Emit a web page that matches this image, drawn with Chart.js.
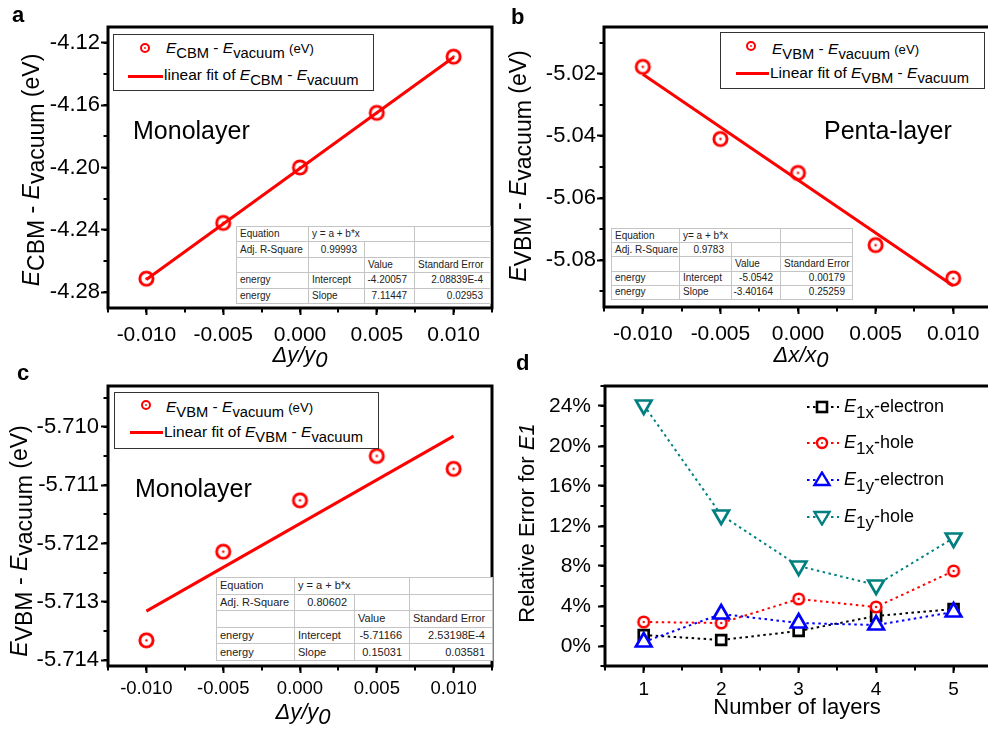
<!DOCTYPE html>
<html>
<head>
<meta charset="utf-8">
<script src="https://cdn.jsdelivr.net/npm/chart.js@4.4.1/dist/chart.umd.min.js"></script>
<style>
html, body { margin: 0; padding: 0; background: #fff; overflow: hidden; width: 988px; height: 729px; }
body { position: relative; font-family: "Liberation Sans", Arial, sans-serif; color: #000; }
canvas { position: absolute; }
.t { position: absolute; white-space: nowrap; line-height: 1; }
.sb { position: relative; top: 0.35em; font-size: 0.95em; }
.ysb { position: relative; top: 0.2em; }
.leg { position: absolute; border: 1.5px solid #333; box-sizing: border-box; background: #fff; }
.mk { position: absolute; }
table.st { position: absolute; border-collapse: collapse; table-layout: fixed; background: #fff; border: 1.5px solid #333; color: #222; }
table.st td { border: 1px solid #c4c4c4; padding: 0 0 0 3px; white-space: nowrap; overflow: hidden; line-height: 1; }
table.st td.r { text-align: right; padding: 0 7px 0 0; }
</style>
</head>
<body>
<canvas id="cA" width="500" height="364" style="left:0;top:0"></canvas>
<canvas id="cB" width="510" height="364" style="left:494px;top:0"></canvas>
<canvas id="cC" width="500" height="365" style="left:0;top:364px"></canvas>
<canvas id="cD" width="510" height="365" style="left:494px;top:364px"></canvas>
<script>
const FONT = '"Liberation Sans", Arial, sans-serif';

// strain axis shared by a, b, c
const strainX = [-0.010, -0.005, 0.000, 0.005, 0.010];
const ticksStrain = [-0.010, -0.005, 0.000, 0.005, 0.010];
const fitX = [-0.010, 0.010];

// a: monolayer, CBM
const cbmMono = [-4.2712, -4.2355, -4.2000, -4.1650, -4.1290];
const fitCbmMono = [-4.2717, -4.1294];
const ticksA = [-4.28, -4.24, -4.20, -4.16, -4.12];
const statsA = ['y = a + b*x', '0.99993', '-4.20057', '2.08839E-4', '7.11447', '0.02953'];

// b: penta-layer, VBM
const vbmPenta = [-5.0178, -5.0410, -5.0519, -5.0751, -5.0858];
const fitVbmPenta = [-5.0202, -5.0882];
const ticksB = [-5.08, -5.06, -5.04, -5.02];
const statsB = ['y= a + b*x', '0.9783', '-5.0542', '0.00179', '-3.40164', '0.25259'];

// c: monolayer, VBM
const vbmMono = [-5.71366, -5.71214, -5.71126, -5.71050, -5.71072];
const fitVbmMono = [-5.71316, -5.71016];
const ticksC = [-5.714, -5.713, -5.712, -5.711, -5.710];
const statsC = ['y = a + b*x', '0.80602', '-5.71166', '2.53198E-4', '0.15031', '0.03581'];

// d: relative error (%) vs number of layers
const layers = [1, 2, 3, 4, 5];
const e1xElectron = [1.1, 0.6, 1.5, 3.0, 3.7];
const e1xHole = [2.4, 2.3, 4.7, 3.9, 7.5];
const e1yElectron = [0.4, 3.2, 2.3, 2.1, 3.4];
const e1yHole = [24.1, 13.1, 8.0, 6.1, 10.8];
const ticksD = [0, 4, 8, 12, 16, 20, 24];
const ticksLayers = [1, 2, 3, 4, 5];

const RED = '#ff0000', BLUE = '#0000ff', TEAL = '#008080';

function pts(xs, ys) { return xs.map((x, i) => ({ x: x, y: ys[i] })); }

function ring(r, lw, color, fill) {
  const c = document.createElement('canvas');
  const s = Math.ceil(2 * r + lw + 2);
  c.width = c.height = s;
  const g = c.getContext('2d');
  g.beginPath(); g.arc(s / 2, s / 2, r, 0, Math.PI * 2);
  if (fill) { g.fillStyle = fill; g.fill(); }
  g.strokeStyle = color; g.lineWidth = lw; g.stroke();
  g.fillStyle = color; g.beginPath(); g.arc(s / 2, s / 2, 1.2, 0, Math.PI * 2); g.fill();
  return c;
}

// frame box + short minor ticks
function frame(xStep, yStep) {
  return {
    id: 'frame',
    afterDraw(chart) {
      const { ctx, chartArea: a } = chart;
      const x = chart.scales.x, y = chart.scales.y;
      ctx.save();
      ctx.strokeStyle = '#000';
      ctx.lineWidth = 2;
      ctx.beginPath();
      for (let k = Math.ceil(x.min / xStep - 1e-6); k <= Math.floor(x.max / xStep + 1e-6); k++) {
        const px = Math.round(x.getPixelForValue(k * xStep));
        ctx.moveTo(px, a.bottom); ctx.lineTo(px, a.bottom + 4.5);
      }
      for (let k = Math.ceil(y.min / yStep - 1e-6); k <= Math.floor(y.max / yStep + 1e-6); k++) {
        const py = Math.round(y.getPixelForValue(k * yStep));
        ctx.moveTo(a.left, py); ctx.lineTo(a.left - 4.5, py);
      }
      ctx.stroke();
      ctx.lineWidth = 3;
      ctx.strokeRect(a.left, a.top, a.right - a.left, a.bottom - a.top);
      ctx.restore();
    }
  };
}

function axis(min, max, tickVals, fmt, size, pad, fitSize, isX) {
  return {
    type: 'linear', min: min, max: max,
    afterBuildTicks: s => { s.ticks = tickVals.map(v => ({ value: v })); },
    afterFit: s => { if (isX) s.height = fitSize; else s.width = fitSize; },
    grid: { drawOnChartArea: false, drawTicks: true, tickLength: 7, tickWidth: 2, tickColor: '#000' },
    border: { display: false },
    ticks: { color: '#000', font: { family: FONT, size: size }, padding: pad, callback: fmt, maxRotation: 0, autoSkip: false }
  };
}

function makeChart(id, pad, xAxis, yAxis, datasets, minor) {
  return new Chart(document.getElementById(id), {
    type: 'scatter',
    data: { datasets: datasets },
    options: {
      responsive: false, animation: false, events: [],
      layout: { padding: pad },
      plugins: { legend: { display: false }, tooltip: { enabled: false } },
      scales: { x: xAxis, y: yAxis }
    },
    plugins: [frame(minor[0], minor[1])]
  });
}

const f2 = v => v.toFixed(2), f3 = v => v.toFixed(3);
const redRing = ring(6.6, 2.9, RED);

function fitSet(ys) {
  return { data: pts(fitX, ys), showLine: true, borderColor: RED, borderWidth: 3, pointRadius: 0 };
}
function ringSet(ys) {
  return { data: pts(strainX, ys), pointStyle: redRing, pointRadius: 7, showLine: false };
}

makeChart('cA', { left: 0, top: 27, right: 6, bottom: 0 },
  axis(-0.0125, 0.0125, ticksStrain, f3, 21, 8, 56, true),
  axis(-4.29, -4.11, ticksA, f2, 22, 1, 108, false),
  [ringSet(cbmMono), fitSet(fitCbmMono)], [0.0025, 0.02]);

makeChart('cB', { left: 0, top: 27, right: 12, bottom: 0 },
  axis(-0.0125, 0.0125, ticksStrain, f3, 21, 8, 57, true),
  axis(-5.095, -5.005, ticksB, f2, 22, 1, 110, false),
  [ringSet(vbmPenta), fitSet(fitVbmPenta)], [0.0025, 0.01]);

makeChart('cC', { left: 0, top: 22, right: 4, bottom: 0 },
  axis(-0.0125, 0.0125, ticksStrain, f3, 18.5, 5, 63, true),
  axis(-5.7141, -5.7093, ticksC, f3, 22, 2, 108, false),
  [ringSet(vbmMono), fitSet(fitVbmMono)], [0.0025, 0.0005]);

function errSet(ys, color, style, radius, rot, order) {
  return {
    data: pts(layers, ys), showLine: true, borderColor: color, borderWidth: 2, borderDash: [2.5, 3.5],
    pointStyle: style, pointRadius: radius, pointRotation: rot, pointBorderColor: color,
    pointBackgroundColor: '#fff', pointBorderWidth: 2.7, order: order
  };
}

makeChart('cD', { left: 0, top: 22, right: 11, bottom: 0 },
  axis(0.5, 5.5, ticksLayers, v => String(v), 19, 5, 63, true),
  axis(-2, 26, ticksD, v => v + '%', 21, 7, 111, false),
  [
    errSet(e1xElectron, '#000', 'rect', 7, 0, 4),
    errSet(e1xHole, RED, ring(5.3, 2.6, RED, '#fff'), 6, 0, 3),
    errSet(e1yElectron, BLUE, 'triangle', 9, 0, 2),
    errSet(e1yHole, TEAL, 'triangle', 9, 180, 1)
  ], [0.5, 2]);

// ---- text overlays ----
function put(html, x, base, size, style) {
  const d = document.createElement('div');
  d.className = 't';
  d.style.left = x + 'px';
  d.style.top = (base - 0.8465 * size) + 'px';
  d.style.fontSize = size + 'px';
  if (style) d.style.cssText += style;
  d.innerHTML = html;
  document.body.appendChild(d);
  return d;
}
function rot(html, cx, cy, size) {
  const d = document.createElement('div');
  d.className = 't';
  d.style.cssText += 'left:' + cx + 'px;top:' + cy + 'px;font-size:' + size + 'px;transform:translate(-50%,-50%) rotate(-90deg);';
  d.innerHTML = html;
  document.body.appendChild(d);
}
function raw(html) { document.body.insertAdjacentHTML('beforeend', html); }

const E = '<i>E</i>';
const sub = s => '<span class="sb">' + s + '</span>';
const ysub = s => '<span class="ysb">' + s + '</span>';

// panel letters
put('<b>a</b>', 12, 23, 22);
put('<b>b</b>', 511, 25, 22);
put('<b>c</b>', 17, 381, 22);
put('<b>d</b>', 516, 371, 22);

// axis titles
rot(E + ysub('CBM') + ' - ' + E + ysub('vacuum') + ' (eV)', 31, 170, 23);
rot(E + ysub('VBM') + ' - ' + E + ysub('vacuum') + ' (eV)', 518, 166, 23);
rot(E + ysub('VBM') + ' - ' + E + ysub('vacuum') + ' (eV)', 19, 541, 23);
rot('Relative Error for <i>E1</i>', 527, 523, 22);
put('<i>Δy/y<span class="ysb">0</span></i>', 300, 363, 22, 'transform:translateX(-50%)');
put('<i>Δx/x<span class="ysb">0</span></i>', 801, 363, 22, 'transform:translateX(-50%)');
put('<i>Δy/y<span class="ysb">0</span></i>', 303, 720, 22, 'transform:translateX(-50%)');
put('Number of layers', 797, 715, 22, 'transform:translateX(-50%)');

// in-plot labels
put('Monolayer', 133, 139, 25);
put('Penta-layer', 824, 139, 25);
put('Monolayer', 135, 497, 25);

// legends a, b, c
function legRing(cx, cy) {
  return '<svg class="mk" style="left:' + (cx - 7) + 'px;top:' + (cy - 7) + 'px" width="14" height="14">' +
    '<circle cx="7" cy="7" r="4" fill="none" stroke="#f00" stroke-width="2"/><circle cx="7" cy="7" r="0.9" fill="#f00"/></svg>';
}
function legLine(x1, x2, y) {
  return '<div style="position:absolute;left:' + x1 + 'px;top:' + (y - 1.5) + 'px;width:' + (x2 - x1) + 'px;height:3px;background:#f00"></div>';
}
function legend(box, mk, ln, textX, b1, b2, band, fitWord) {
  raw('<div class="leg" style="left:' + box[0] + 'px;top:' + box[1] + 'px;width:' + box[2] + 'px;height:' + box[3] + 'px"></div>');
  raw(legRing(mk[0], mk[1]));
  raw(legLine(ln[0], ln[1], ln[2]));
  put(E + sub(band) + ' - ' + E + sub('vacuum') + ' <span style="font-size:0.85em">(eV)</span>', textX, b1, 15.5);
  put(fitWord + ' fit of ' + E + sub(band) + ' - ' + E + sub('vacuum'), ln[1] + 1, b2, 15.5);
}
legend([113, 34, 261, 57], [145, 48], [128, 163, 76], 166, 53, 80, 'CBM', 'linear');
legend([720, 32, 265, 57], [751, 46], [736, 769, 73], 772, 54, 78, 'VBM', 'Linear');
legend([114, 392, 265, 57], [146, 405], [130, 163, 432], 166, 412, 437, 'VBM', 'Linear');

// legend d
function legD(cy, color, shape) {
  let m = '';
  if (shape === 'sq') m = '<rect x="12" y="4" width="10" height="10" fill="#fff" stroke="' + color + '" stroke-width="2.6"/>';
  if (shape === 'ci') m = '<circle cx="17" cy="9" r="5" fill="#fff" stroke="' + color + '" stroke-width="2.4"/><circle cx="17" cy="9" r="1" fill="' + color + '"/>';
  if (shape === 'up') m = '<polygon points="17,1.5 24.5,14 9.5,14" fill="#fff" stroke="' + color + '" stroke-width="2.4"/>';
  if (shape === 'dn') m = '<polygon points="17,16.5 24.5,4 9.5,4" fill="#fff" stroke="' + color + '" stroke-width="2.4"/>';
  raw('<svg class="mk" style="left:805px;top:' + (cy - 9) + 'px" width="36" height="18">' +
    '<line x1="2" y1="9" x2="34" y2="9" stroke="' + color + '" stroke-width="2" stroke-dasharray="2.5 3.5"/>' + m + '</svg>');
}
legD(407, '#000', 'sq');
legD(443, RED, 'ci');
legD(480, BLUE, 'up');
legD(517, TEAL, 'dn');
put(E + sub('1x') + '-electron', 844, 412, 18);
put(E + sub('1x') + '-hole', 844, 448, 18);
put(E + sub('1y') + '-electron', 844, 485, 18);
put(E + sub('1y') + '-hole', 844, 522, 18);

// fit statistics tables
function statTable(left, top, cols, rowH, fs, s) {
  const cg = '<colgroup>' + cols.map(w => '<col style="width:' + w + 'px">').join('') + '</colgroup>';
  const tr = cells => '<tr style="height:' + rowH + 'px">' + cells + '</tr>';
  const w = cols.reduce((p, c) => p + c, 0);
  raw('<table class="st" style="left:' + left + 'px;top:' + top + 'px;width:' + w + 'px;font-size:' + fs + 'px">' + cg +
    tr('<td>Equation</td><td colspan="2">' + s[0] + '</td><td></td>') +
    tr('<td>Adj. R-Square</td><td class="r">' + s[1] + '</td><td></td><td></td>') +
    tr('<td></td><td></td><td>Value</td><td>Standard Error</td>') +
    tr('<td>energy</td><td>Intercept</td><td class="r">' + s[2] + '</td><td class="r">' + s[3] + '</td>') +
    tr('<td>energy</td><td>Slope</td><td class="r">' + s[4] + '</td><td class="r">' + s[5] + '</td>') +
    '</table>');
}
statTable(236, 226, [72, 56, 50, 76], 15.4, 10, statsA);
statTable(611, 228, [68, 52, 49, 72], 14.2, 10, statsB);
statTable(216, 577, [78, 60, 55, 83], 16.6, 11, statsC);
</script>
</body>
</html>
